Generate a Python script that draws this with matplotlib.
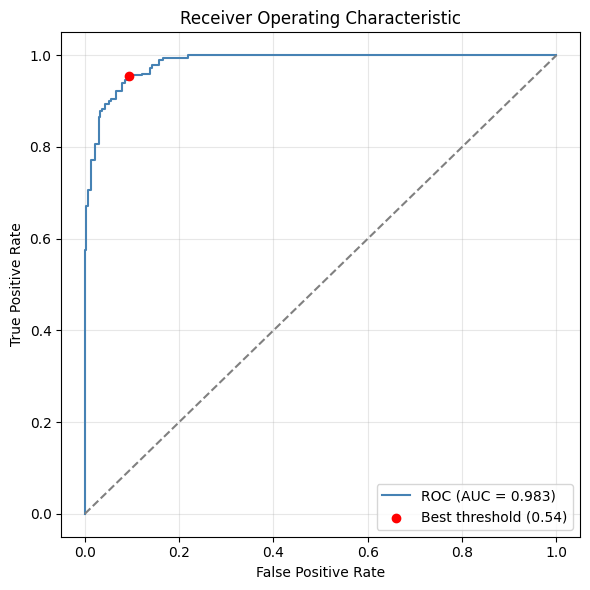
import matplotlib
matplotlib.use("Agg")
import matplotlib.pyplot as plt

fpr = [0.0, 0.0, 0.0032, 0.0068, 0.013, 0.0216, 0.0293, 0.0329, 0.0372, 0.0421,
       0.0507, 0.0563, 0.0662, 0.0789, 0.086, 0.0924, 0.1214, 0.139, 0.1426,
       0.1566, 0.1665, 0.2183, 1.0]
tpr = [0.0, 0.576, 0.671, 0.707, 0.771, 0.807, 0.866, 0.878, 0.883, 0.894,
       0.900, 0.905, 0.922, 0.940, 0.945, 0.956, 0.960, 0.972, 0.978,
       0.989, 0.994, 1.0, 1.0]
auc_value = 0.983
best_fpr = 0.0935
best_tpr = 0.955
best_threshold = 0.54

fig, ax = plt.subplots(figsize=(6, 6), dpi=100)
ax.step(fpr, tpr, where="post", color="steelblue", label=f"ROC (AUC = {auc_value:.3f})")
ax.plot([0, 1], [0, 1], linestyle="--", color="gray")
ax.scatter([best_fpr], [best_tpr], color="red", zorder=3,
           label=f"Best threshold ({best_threshold:.2f})")
ax.set_xlabel("False Positive Rate")
ax.set_ylabel("True Positive Rate")
ax.set_title("Receiver Operating Characteristic")
ax.legend(loc="lower right")
ax.grid(alpha=0.3)
fig.tight_layout()
fig.savefig("out.png", bbox_inches="tight")
